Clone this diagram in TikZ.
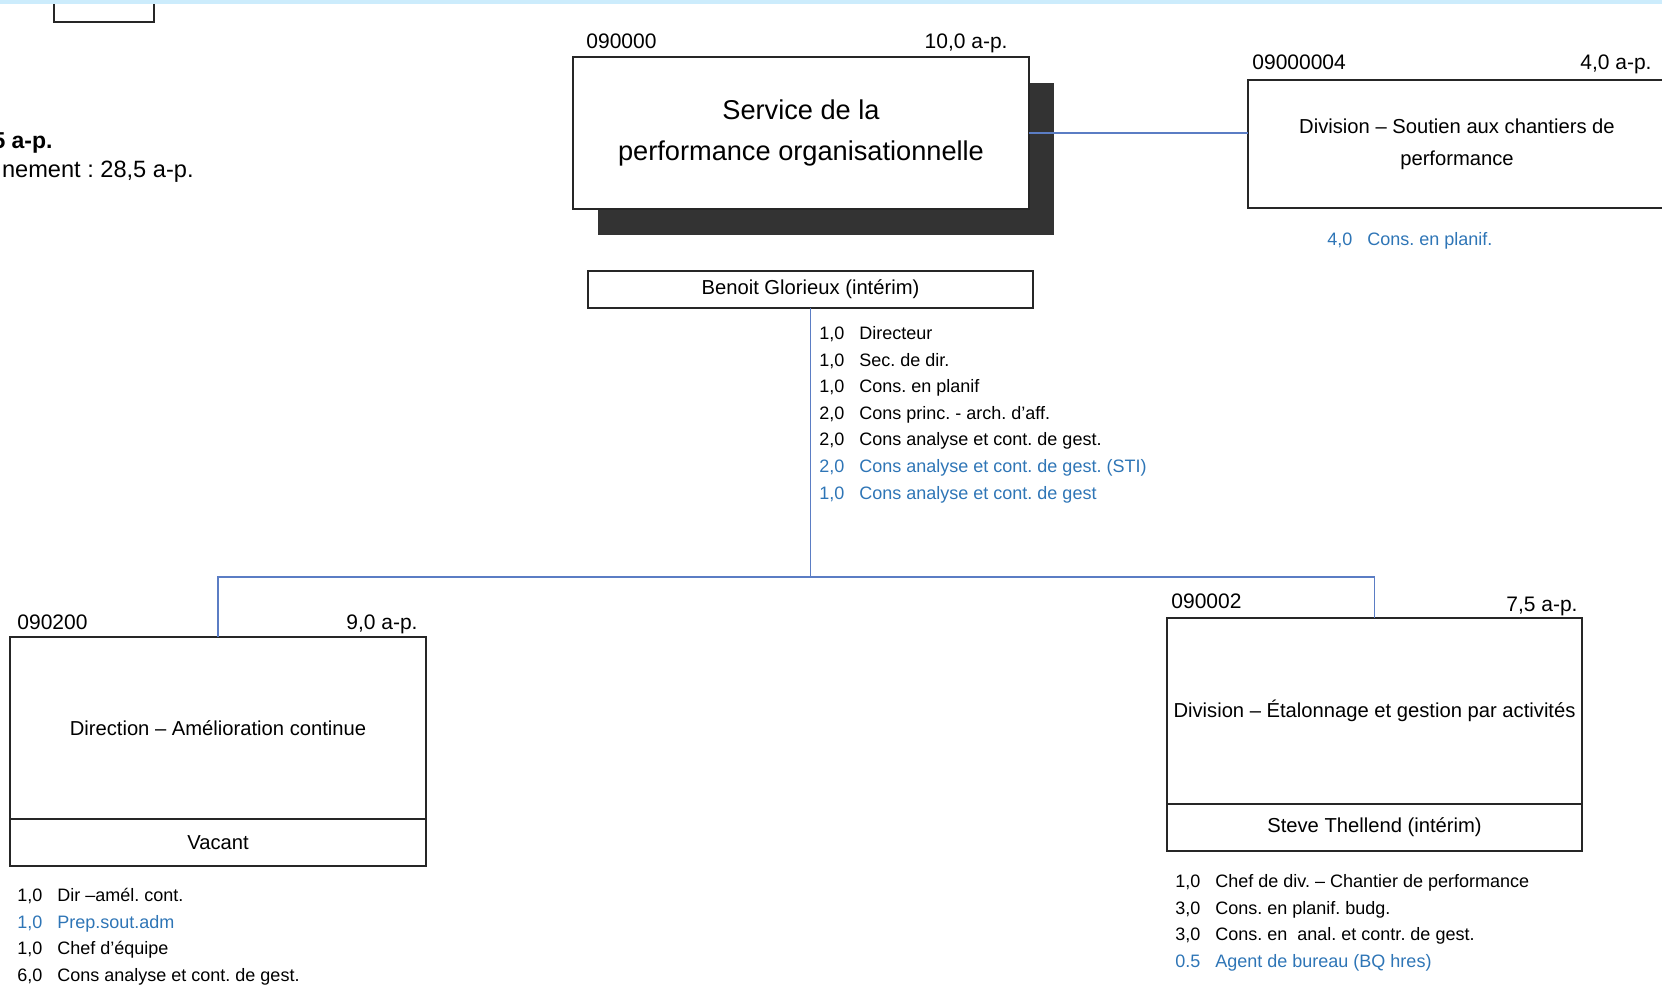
\documentclass[tikz,border=0pt]{standalone}
\usepackage{fontspec}
\setmainfont{Liberation Sans}
\usetikzlibrary{positioning, shadows}
\definecolor{lienbleu}{RGB}{91,125,196}
\definecolor{textebleu}{RGB}{46,117,182}
\definecolor{bandeau}{RGB}{204,236,252}
\newcommand{\poste}[2]{\makebox[20pt][l]{#1}#2}
\frenchspacing

\begin{document}
\begin{tikzpicture}[x=0.5pt, y=-0.5pt,
    unite/.style={draw=black!85, line width=1pt, fill=white, outer sep=0pt,
                  inner sep=1pt, align=center,
                  font=\fontsize{10.1}{16}\selectfont},
    code/.style={inner sep=0pt, text depth=0pt,
                 font=\fontsize{10.5}{12}\selectfont},
    postes/.style={inner sep=0pt, align=left,
                   font=\fontsize{9}{13.3}\selectfont},
    lien/.style={draw=lienbleu, line width=0.7pt}]
  \useasboundingbox (0,0) rectangle (1662,994);
  \clip (0,0) rectangle (1662,994);

  \node[draw=black!85, line width=1pt, outer sep=0pt, anchor=south,
        minimum width=50pt, minimum height=20pt] (coin) at (104,22) {};
  \node[anchor=base east, inner sep=0pt,
        font=\fontsize{11.5}{13}\selectfont\bfseries] (total) at (53,149) {5 a-p.};
  \node[anchor=base east, inner sep=0pt,
        font=\fontsize{11.8}{13}\selectfont] (effectif) at (194,178)
    {nement : 28,5 a-p.};

  \node[unite, minimum width=228pt, minimum height=76pt,
        font=\fontsize{13.6}{20.5}\selectfont,
        drop shadow={shadow xshift=12.5pt, shadow yshift=-13pt,
                     fill=black!80, opacity=1}] (svc) at (801,133)
    {Service de la\\performance organisationnelle};
  \node[code, above right=4pt and 6.5pt of svc.north west] (svccode) {090000};
  \node[code, above left=4pt and 10.5pt of svc.north east] (svcap) {10,0 a-p.};

  \node[unite, minimum width=222.5pt, minimum height=18.5pt,
        below=31pt of svc, xshift=4.75pt] (benoit) {Benoit Glorieux (intérim)};
  \node[postes, below right=9pt and 4.25pt of benoit.south] (benoitpostes)
    {\poste{1,0}{Directeur}\\
     \poste{1,0}{Sec. de dir.}\\
     \poste{1,0}{Cons. en planif}\\
     \poste{2,0}{Cons princ. - arch. d'aff.}\\
     \poste{2,0}{Cons analyse et cont. de gest.}\\
     \textcolor{textebleu}{\poste{2,0}{Cons analyse et cont. de gest. (STI)}}\\
     \textcolor{textebleu}{\poste{1,0}{Cons analyse et cont. de gest}}};

  \node[unite, minimum width=209pt, minimum height=64pt] (soutien) at (1457,144)
    {Division – Soutien aux chantiers de\\performance};
  \node[code, above right=5pt and 2pt of soutien.north west] (soutiencode) {09000004};
  \node[code, above left=5pt and 7pt of soutien.north east] (soutienap) {4,0 a-p.};
  \node[postes, below right=12pt and 39.5pt of soutien.south west] (soutienpostes)
    {\textcolor{textebleu}{\poste{4,0}{Cons. en planif.}}};

  \node[unite, minimum width=208pt, minimum height=91pt] (amelio) at (218,728)
    {Direction – Amélioration continue};
  \node[unite, minimum width=208pt, minimum height=23.5pt,
        below=0pt of amelio] (vacant) {Vacant};
  \node[code, above right=3.5pt and 3.5pt of amelio.north west] (ameliocode) {090200};
  \node[code, above left=3.5pt and 4pt of amelio.north east] (amelioap) {9,0 a-p.};
  \node[postes, below right=11pt and 3.5pt of vacant.south west] (vacantpostes)
    {\poste{1,0}{Dir –amél. cont.}\\
     \textcolor{textebleu}{\poste{1,0}{Prep.sout.adm}}\\
     \poste{1,0}{Chef d'équipe}\\
     \poste{6,0}{Cons analyse et cont. de gest.}};

  \node[unite, minimum width=207.5pt, minimum height=93pt] (etalon) at (1374.5,711)
    {Division – Étalonnage et gestion par activités};
  \node[unite, minimum width=207.5pt, minimum height=23.5pt,
        below=0pt of etalon] (steve) {Steve Thellend (intérim)};
  \node[code, above right=4.5pt and 2pt of etalon.north west] (etaloncode) {090002};
  \node[code, above left=3pt and 2pt of etalon.north east] (etalonap) {7,5 a-p.};
  \node[postes, below right=11.5pt and 4pt of steve.south west] (stevepostes)
    {\poste{1,0}{Chef de div. – Chantier de performance}\\
     \poste{3,0}{Cons. en planif. budg.}\\
     \poste{3,0}{Cons. en\ \ anal. et contr. de gest.}\\
     \textcolor{textebleu}{\poste{0.5}{Agent de bureau (BQ hres)}}};

  \coordinate (embranch) at (benoit.south |- 0,577);
  \draw[lien] (svc.east) -- (svc.east -| soutien.west);
  \draw[lien] (benoit.south) -- (embranch);
  \draw[lien] (amelio.north) |- (embranch) -| (etalon.north);

  \fill[bandeau] (0,0) rectangle (1662,4);
\end{tikzpicture}
\end{document}
